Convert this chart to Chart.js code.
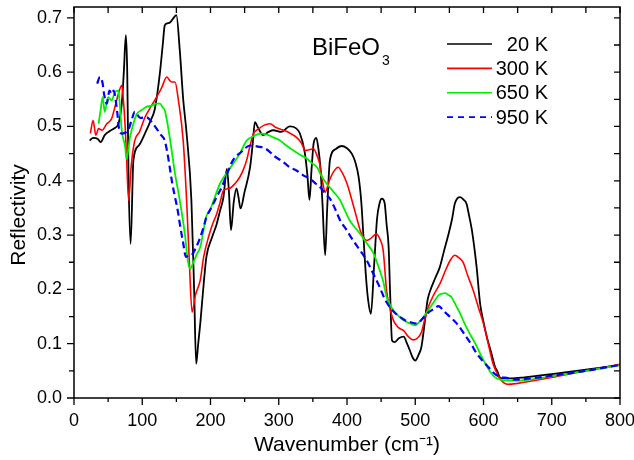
<!DOCTYPE html>
<html>
<head>
<meta charset="utf-8">
<script src="https://cdn.jsdelivr.net/npm/chart.js@4.4.0/dist/chart.umd.min.js"></script>
<style>
  html, body { margin: 0; padding: 0; background: #fff; }
  #wrap { width: 634px; height: 460px; }
</style>
</head>
<body>
<div id="wrap"><canvas id="myChart" width="634" height="460"></canvas></div>
<script>
// axis ticks
const xTicks = [0, 100, 200, 300, 400, 500, 600, 700, 800];
const yTicks = [0.0, 0.1, 0.2, 0.3, 0.4, 0.5, 0.6, 0.7];

// 20 K
const wn20 = [23, 28, 35, 39, 45, 53, 58, 65, 70, 73, 76, 78, 80, 83, 87, 95, 105, 112, 118, 122, 126, 130, 133, 137, 141, 146, 150, 155, 160, 165, 172, 176, 179, 182, 185, 190, 194, 202, 209, 214, 219, 224, 227, 230, 234, 238, 241, 244, 250, 258, 262, 265, 270, 277, 285, 292, 304, 316, 325, 331, 338, 342, 345, 348, 351, 355, 358, 361, 364, 368, 371, 375, 383, 392, 400, 407, 412, 417, 421, 424, 428, 431, 435, 440, 444, 448, 451, 455, 458, 461, 463, 466, 470, 476, 483, 488, 492, 496, 500, 505, 509, 514, 518, 522, 529, 536, 542, 549, 554, 558, 562, 566, 571, 575, 579, 583, 590, 595, 600, 605, 611, 617, 620, 624, 630, 640, 660, 700, 750, 800];
const r20 = [0.474, 0.479, 0.477, 0.471, 0.484, 0.492, 0.496, 0.505, 0.542, 0.600, 0.668, 0.600, 0.400, 0.284, 0.437, 0.465, 0.490, 0.510, 0.530, 0.560, 0.600, 0.650, 0.686, 0.690, 0.692, 0.700, 0.705, 0.640, 0.550, 0.487, 0.364, 0.200, 0.063, 0.100, 0.137, 0.210, 0.260, 0.295, 0.320, 0.345, 0.370, 0.422, 0.380, 0.309, 0.360, 0.386, 0.370, 0.349, 0.380, 0.425, 0.470, 0.508, 0.497, 0.484, 0.490, 0.493, 0.490, 0.500, 0.497, 0.487, 0.453, 0.410, 0.365, 0.420, 0.468, 0.479, 0.460, 0.425, 0.360, 0.263, 0.350, 0.438, 0.458, 0.464, 0.460, 0.450, 0.435, 0.407, 0.360, 0.300, 0.220, 0.180, 0.155, 0.250, 0.330, 0.360, 0.367, 0.360, 0.320, 0.278, 0.200, 0.106, 0.103, 0.110, 0.113, 0.100, 0.088, 0.075, 0.069, 0.080, 0.094, 0.140, 0.180, 0.198, 0.220, 0.241, 0.270, 0.303, 0.330, 0.358, 0.368, 0.370, 0.365, 0.358, 0.335, 0.309, 0.240, 0.174, 0.140, 0.112, 0.085, 0.057, 0.050, 0.038, 0.036, 0.036, 0.038, 0.044, 0.052, 0.061];

// 300 K
const wn300 = [24, 28, 32, 36, 41, 48, 55, 60, 65, 70, 72, 75, 77, 80, 84, 89, 96, 104, 112, 121, 128, 136, 140, 143, 148, 153, 160, 165, 169, 173, 178, 185, 190, 197, 203, 209, 214, 219, 228, 236, 243, 248, 253, 258, 263, 270, 278, 287, 296, 307, 316, 326, 333, 339, 345, 351, 355, 360, 364, 368, 374, 380, 387, 393, 400, 407, 414, 419, 424, 429, 434, 440, 443, 448, 453, 458, 463, 468, 475, 483, 490, 497, 503, 509, 514, 519, 527, 536, 545, 552, 558, 564, 570, 577, 585, 593, 600, 607, 614, 620, 624, 630, 636, 650, 700, 750, 800];
const r300 = [0.487, 0.511, 0.484, 0.496, 0.493, 0.505, 0.514, 0.536, 0.560, 0.576, 0.554, 0.500, 0.444, 0.364, 0.430, 0.474, 0.490, 0.517, 0.535, 0.554, 0.570, 0.591, 0.585, 0.582, 0.582, 0.548, 0.474, 0.364, 0.250, 0.158, 0.190, 0.217, 0.260, 0.296, 0.320, 0.339, 0.360, 0.382, 0.386, 0.395, 0.407, 0.420, 0.438, 0.465, 0.487, 0.495, 0.502, 0.505, 0.498, 0.493, 0.488, 0.480, 0.470, 0.456, 0.457, 0.459, 0.450, 0.431, 0.400, 0.379, 0.400, 0.416, 0.425, 0.415, 0.395, 0.365, 0.333, 0.310, 0.296, 0.290, 0.293, 0.300, 0.302, 0.293, 0.272, 0.198, 0.165, 0.143, 0.130, 0.124, 0.113, 0.107, 0.110, 0.121, 0.145, 0.167, 0.190, 0.210, 0.237, 0.255, 0.263, 0.258, 0.250, 0.225, 0.198, 0.165, 0.137, 0.100, 0.063, 0.045, 0.036, 0.028, 0.025, 0.027, 0.038, 0.050, 0.062];

// 650 K
const wn650 = [36, 39, 42, 45, 50, 55, 60, 65, 67, 70, 75, 77, 82, 87, 92, 99, 106, 113, 121, 126, 130, 133, 137, 141, 148, 155, 163, 166, 170, 175, 180, 185, 190, 194, 199, 205, 214, 224, 233, 243, 253, 263, 273, 283, 292, 302, 311, 321, 331, 341, 348, 356, 362, 370, 380, 390, 397, 404, 411, 419, 429, 439, 448, 453, 458, 463, 468, 475, 483, 491, 500, 506, 512, 517, 522, 528, 534, 539, 544, 548, 553, 559, 566, 573, 580, 588, 595, 602, 610, 617, 624, 636, 649, 700, 750, 800];
const r650 = [0.505, 0.530, 0.554, 0.527, 0.554, 0.548, 0.563, 0.566, 0.542, 0.493, 0.462, 0.440, 0.480, 0.505, 0.523, 0.530, 0.536, 0.538, 0.542, 0.542, 0.535, 0.530, 0.505, 0.474, 0.413, 0.364, 0.296, 0.260, 0.238, 0.250, 0.265, 0.278, 0.310, 0.335, 0.345, 0.365, 0.395, 0.415, 0.431, 0.450, 0.474, 0.482, 0.487, 0.485, 0.480, 0.474, 0.465, 0.456, 0.448, 0.441, 0.433, 0.425, 0.410, 0.395, 0.380, 0.364, 0.345, 0.327, 0.315, 0.303, 0.285, 0.266, 0.235, 0.215, 0.186, 0.172, 0.161, 0.152, 0.143, 0.138, 0.134, 0.140, 0.149, 0.158, 0.167, 0.178, 0.189, 0.192, 0.193, 0.190, 0.186, 0.172, 0.155, 0.135, 0.118, 0.100, 0.082, 0.065, 0.048, 0.038, 0.034, 0.032, 0.032, 0.040, 0.050, 0.060];

// 950 K
const wn950 = [34, 38, 42, 44, 48, 52, 55, 58, 63, 66, 70, 77, 80, 85, 89, 97, 106, 116, 121, 127, 133, 137, 141, 144, 148, 152, 155, 160, 164, 168, 172, 178, 185, 190, 194, 201, 209, 217, 225, 233, 245, 258, 270, 281, 294, 307, 316, 326, 336, 345, 354, 363, 369, 375, 382, 390, 399, 409, 419, 429, 438, 448, 455, 463, 470, 478, 485, 492, 502, 510, 517, 522, 527, 534, 540, 546, 554, 561, 568, 575, 583, 590, 597, 605, 612, 619, 627, 634, 645, 668, 700, 750, 800];
const r950 = [0.579, 0.591, 0.579, 0.560, 0.542, 0.566, 0.560, 0.566, 0.530, 0.496, 0.487, 0.490, 0.495, 0.514, 0.527, 0.516, 0.517, 0.505, 0.496, 0.485, 0.474, 0.450, 0.419, 0.395, 0.370, 0.345, 0.321, 0.285, 0.260, 0.262, 0.263, 0.275, 0.296, 0.315, 0.333, 0.350, 0.370, 0.390, 0.415, 0.438, 0.453, 0.465, 0.463, 0.459, 0.445, 0.434, 0.425, 0.419, 0.410, 0.404, 0.395, 0.385, 0.375, 0.367, 0.350, 0.327, 0.310, 0.290, 0.272, 0.253, 0.230, 0.204, 0.183, 0.167, 0.157, 0.149, 0.143, 0.140, 0.137, 0.145, 0.155, 0.160, 0.164, 0.169, 0.163, 0.155, 0.146, 0.137, 0.125, 0.112, 0.097, 0.082, 0.071, 0.060, 0.050, 0.042, 0.038, 0.037, 0.034, 0.036, 0.041, 0.050, 0.061];

const labels = ['20 K', '300 K', '650 K', '950 K'];
const colors = ['#000000', '#ff0000', '#00ee00', '#0000ff'];
const dashes = [[], [], [], [7, 4]];
const widths = [1.8, 1.6, 1.8, 2.2];

function pts(xs, ys) {
    return xs.map((x, i) => ({ x: x, y: ys[i] }));
}

const FONT = "'Liberation Sans', Arial, sans-serif";

// frame, ticks, y title, legend, sample label
const decor = {
    id: 'decor',
    afterDraw(chart) {
        const ctx = chart.ctx;
        const a = chart.chartArea;
        const xs = chart.scales.x;
        const ys = chart.scales.y;
        ctx.save();
        ctx.strokeStyle = '#000';
        ctx.lineWidth = 1.5;
        ctx.strokeRect(a.left, a.top, a.right - a.left, a.bottom - a.top);
        ctx.lineWidth = 1.3;
        ctx.beginPath();
        for (let v = 0; v <= 800; v += 50) {
            const px = xs.getPixelForValue(v);
            const major = v % 100 === 0;
            ctx.moveTo(px, a.bottom);
            ctx.lineTo(px, a.bottom + (major ? 7 : 4));
            ctx.moveTo(px, a.top);
            ctx.lineTo(px, a.top + 6);
        }
        for (let k = 0; k <= 14; k++) {
            const py = ys.getPixelForValue(k * 0.05);
            const major = k % 2 === 0;
            ctx.moveTo(a.left, py);
            ctx.lineTo(a.left - (major ? 7 : 5), py);
            ctx.moveTo(a.right, py);
            ctx.lineTo(a.right - 6, py);
        }
        ctx.stroke();

        // y title
        ctx.fillStyle = '#000';
        ctx.save();
        ctx.translate(25, 215);
        ctx.rotate(-Math.PI / 2);
        ctx.font = '21px ' + FONT;
        ctx.textAlign = 'center';
        ctx.textBaseline = 'alphabetic';
        ctx.fillText('Reflectivity', 0, 0);
        ctx.restore();

        // legend
        ctx.font = '20px ' + FONT;
        ctx.textAlign = 'right';
        ctx.textBaseline = 'middle';
        labels.forEach((lab, i) => {
            const y = 44 + i * 24.4;
            ctx.beginPath();
            ctx.strokeStyle = colors[i];
            ctx.lineWidth = dashes[i].length ? 1.8 : 1.6;
            ctx.setLineDash(dashes[i].length ? [6, 5] : []);
            ctx.moveTo(447, y);
            ctx.lineTo(492, y);
            ctx.stroke();
            ctx.setLineDash([]);
            ctx.fillText(lab, 548, y + 1);
        });

        // BiFeO3
        ctx.textAlign = 'left';
        ctx.textBaseline = 'alphabetic';
        ctx.font = '24px ' + FONT;
        ctx.fillText('BiFeO', 312, 55);
        const w = ctx.measureText('BiFeO').width;
        ctx.font = '14px ' + FONT;
        ctx.fillText('3', 312 + w + 2, 65);
        ctx.restore();
    }
};

// 950 K is drawn on top, 20 K underneath
const datasets = labels.map((lab, i) => ({
    label: lab,
    data: [pts(wn20, r20), pts(wn300, r300), pts(wn650, r650), pts(wn950, r950)][i],
    borderColor: colors[i],
    borderWidth: widths[i],
    borderDash: dashes[i],
    order: labels.length - i
}));

const ctx = document.getElementById('myChart').getContext('2d');
const myChart = new Chart(ctx, {
    type: 'line',
    data: { datasets: datasets },
    options: {
        responsive: false,
        animation: false,
        parsing: false,
        elements: {
            point: { radius: 0 },
            line: { cubicInterpolationMode: 'monotone', fill: false }
        },
        layout: { padding: { top: 7, right: 14, bottom: 0, left: 0 } },
        plugins: { legend: { display: false }, tooltip: { enabled: false } },
        scales: {
            x: {
                type: 'linear', min: 0, max: 800,
                grid: { display: false, drawTicks: false },
                border: { display: false },
                afterBuildTicks: s => { s.ticks = xTicks.map(v => ({ value: v })); },
                afterFit: s => { s.height = 62; s.paddingLeft = 0; s.paddingRight = 0; },
                ticks: { padding: 12, color: '#000', font: { size: 18, family: FONT }, maxRotation: 0, autoSkip: false, callback: v => String(v) },
                title: { display: true, text: 'Wavenumber (cm⁻¹)', color: '#000', font: { size: 21, family: FONT }, padding: { top: 0, bottom: 2 } }
            },
            y: {
                type: 'linear', min: 0, max: 0.72,
                grid: { display: false, drawTicks: false },
                border: { display: false },
                afterBuildTicks: s => { s.ticks = yTicks.map(v => ({ value: v })); },
                afterFit: s => { s.width = 74; s.paddingTop = 0; s.paddingBottom = 0; },
                ticks: { padding: 12, color: '#000', font: { size: 18, family: FONT }, autoSkip: false, callback: v => v.toFixed(1) }
            }
        }
    },
    plugins: [decor]
});
</script>
</body>
</html>
